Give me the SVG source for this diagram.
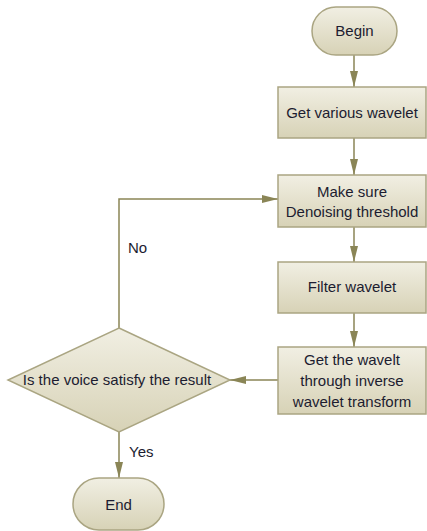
<svg xmlns="http://www.w3.org/2000/svg" width="427" height="531" viewBox="0 0 427 531">
<defs>
<linearGradient id="g" x1="0" y1="0" x2="0" y2="1">
<stop offset="0" stop-color="#f1efe3"/>
<stop offset="1" stop-color="#d7d2b6"/>
</linearGradient>
<marker id="ah" markerWidth="16" markerHeight="8" refX="16" refY="4" orient="auto" markerUnits="userSpaceOnUse">
<path d="M0,0 L16,4 L0,8 Z" fill="#8a8556"/>
</marker>
<style>
.n{fill:url(#g);stroke:#aaa582;stroke-width:1.5}
.t{font-family:"Liberation Sans",Arial,sans-serif;font-size:15px;fill:#1c1c30;text-anchor:middle}
.l{font-family:"Liberation Sans",Arial,sans-serif;font-size:15px;fill:#1c1c30}
.c{fill:none;stroke:#8a8556;stroke-width:1.5;marker-end:url(#ah)}
</style>
</defs>
<rect width="427" height="531" fill="#fff"/>
<g id="connectors">
<path class="c" d="M354,55 V87"/>
<path class="c" d="M354,138 V175"/>
<path class="c" d="M354,227 V262"/>
<path class="c" d="M354,313 V347"/>
<path class="c" d="M278,380 H230"/>
<path class="c" d="M119,328 V199 H278"/>
<path class="c" d="M119,432 V478"/>
<text class="l" x="128" y="253">No</text>
<text class="l" x="129" y="457">Yes</text>
</g>
<g id="begin">
<rect class="n" x="312" y="7" width="85" height="48" rx="24" ry="24"/>
<text class="t" x="354.5" y="36">Begin</text>
</g>
<g id="get-various">
<rect class="n" x="278" y="87" width="148" height="51"/>
<text class="t" x="352" y="118">Get various wavelet</text>
</g>
<g id="make-sure">
<rect class="n" x="278" y="175" width="148" height="52"/>
<text class="t" x="352" y="197">Make sure</text>
<text class="t" x="352" y="217">Denoising threshold</text>
</g>
<g id="filter">
<rect class="n" x="278" y="262" width="148" height="51"/>
<text class="t" x="352" y="292">Filter wavelet</text>
</g>
<g id="get-the-wavelt">
<rect class="n" x="278" y="347" width="148" height="67"/>
<text class="t" x="352" y="365">Get the wavelt</text>
<text class="t" x="352" y="386">through inverse</text>
<text class="t" x="352" y="407">wavelet transform</text>
</g>
<g id="decision">
<path class="n" d="M119,328 L230,380 L119,432 L8,380 Z"/>
<text class="t" x="117" y="385">Is the voice satisfy the result</text>
</g>
<g id="end">
<rect class="n" x="73" y="478" width="91" height="52" rx="26" ry="26"/>
<text class="t" x="118.5" y="510">End</text>
</g>
</svg>
